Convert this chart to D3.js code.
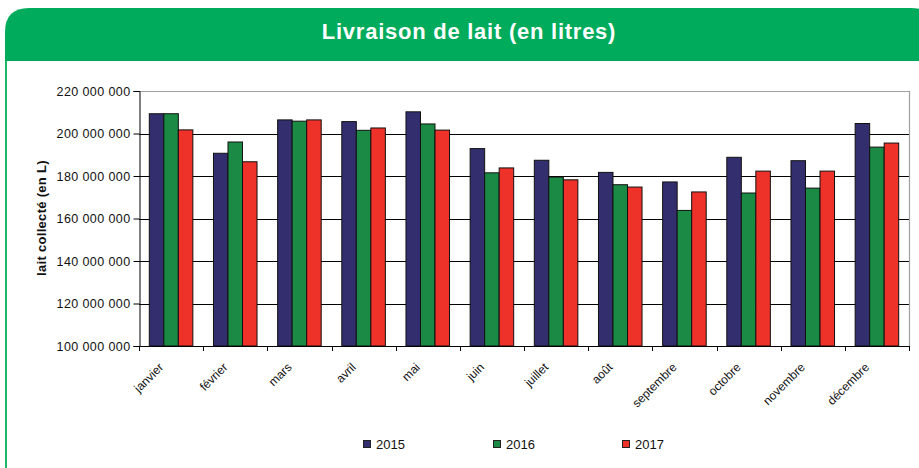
<!DOCTYPE html>
<html>
<head>
<meta charset="utf-8">
<script src="https://cdn.jsdelivr.net/npm/d3@7.9.0/dist/d3.min.js"></script>
<style>
  body { margin: 0; background: #fff; }
  svg { display: block; font-family: "Liberation Sans", Arial, sans-serif; }
</style>
</head>
<body>
<svg id="chart" width="919" height="468"></svg>
<script>
// Data
const months = ["janvier", "février", "mars", "avril", "mai", "juin",
  "juillet", "août", "septembre", "octobre", "novembre", "décembre"];
const years = ["2015", "2016", "2017"];
const values2015 = [209.3, 190.7, 206.4, 205.6, 210.2, 192.9, 187.4, 181.7, 177.2, 188.8, 187.2, 204.7];
const values2016 = [209.3, 196.0, 205.8, 201.5, 204.5, 181.5, 179.5, 175.9, 163.8, 172.0, 174.3, 193.6];
const values2017 = [201.7, 186.7, 206.4, 202.6, 201.6, 183.8, 178.2, 174.8, 172.5, 182.3, 182.3, 195.5];
const yTicks = [100e6, 120e6, 140e6, 160e6, 180e6, 200e6, 220e6];
const colors = ["#332f6f", "#1a8a45", "#ee3129"];

const series = [values2015, values2016, values2017];

const svg = d3.select("#chart");

// Header banner with rounded top corners
const bx = 5, by = 8, bw = 930, bh = 53, r = 24;
svg.append("path")
  .attr("d", `M${bx},${by + bh} L${bx},${by + r} Q${bx},${by} ${bx + r},${by} L${bx + bw - r},${by} Q${bx + bw},${by} ${bx + bw},${by + r} L${bx + bw},${by + bh} Z`)
  .attr("fill", "#00ab5b");
svg.append("text")
  .attr("x", 469).attr("y", 38.5)
  .attr("text-anchor", "middle")
  .attr("font-size", 22).attr("font-weight", "bold")
  .attr("letter-spacing", 0.75)
  .attr("fill", "#fff")
  .text("Livraison de lait (en litres)");

// green left border of the box
svg.append("line")
  .attr("x1", 6).attr("x2", 6).attr("y1", 61).attr("y2", 468)
  .attr("stroke", "#1db865").attr("stroke-width", 2);

const margin = { left: 139, right: 909, top: 91, bottom: 346 };

const x0 = d3.scaleBand().domain(months).range([margin.left, margin.right]);
const x1 = d3.scaleBand().domain(years).range([0, x0.bandwidth()])
  .paddingInner(0).paddingOuter(0.71);
const y = d3.scaleLinear().domain([100e6, 220e6]).range([margin.bottom, margin.top]);

const fr = d3.formatLocale({ decimal: ",", thousands: " ", grouping: [3], currency: ["", ""] });
const fmt = fr.format(",d");

// gridlines
svg.append("g")
  .selectAll("line")
  .data(yTicks.slice(1, -1))
  .join("line")
  .attr("x1", margin.left).attr("x2", margin.right)
  .attr("y1", d => Math.round(y(d)) + 0.5).attr("y2", d => Math.round(y(d)) + 0.5)
  .attr("stroke", "#000").attr("stroke-width", 1);

// plot frame top and right (grey)
svg.append("path")
  .attr("d", `M${margin.left},${margin.top + 0.5} H${margin.right + 0.5} V${margin.bottom}`)
  .attr("fill", "none").attr("stroke", "#a0a0a0").attr("stroke-width", 1.2);

// bars
const g = svg.append("g");
months.forEach((m, i) => {
  years.forEach((yr, j) => {
    const v = series[j][i] * 1e6;
    g.append("rect")
      .attr("x", x0(m) + x1(yr))
      .attr("y", y(v))
      .attr("width", x1.bandwidth())
      .attr("height", y(100e6) - y(v))
      .attr("fill", colors[j])
      .attr("stroke", "#111")
      .attr("stroke-width", 1);
  });
});

// y axis
const yAxis = d3.axisLeft(y).tickValues(yTicks).tickFormat(fmt).tickSize(6).tickPadding(3);
const ya = svg.append("g").attr("transform", `translate(${margin.left + 0.5},0)`).call(yAxis);
ya.select(".domain").attr("stroke", "#000");
ya.selectAll(".tick line").attr("stroke", "#000");
ya.selectAll("text").attr("font-size", 12.5).attr("fill", "#111")
  .attr("letter-spacing", 0.4)
  .attr("font-family", "Liberation Sans, Arial, sans-serif");

// x axis: ticks at category boundaries
const xa = svg.append("g");
xa.append("line")
  .attr("x1", margin.left).attr("x2", margin.right + 0.5)
  .attr("y1", margin.bottom + 0.5).attr("y2", margin.bottom + 0.5)
  .attr("stroke", "#000");
xa.selectAll(".tk")
  .data(months.concat(["end"]))
  .join("line")
  .attr("x1", (d, i) => Math.round(margin.left + i * x0.step()) + 0.5)
  .attr("x2", (d, i) => Math.round(margin.left + i * x0.step()) + 0.5)
  .attr("y1", margin.bottom).attr("y2", margin.bottom + 5)
  .attr("stroke", "#000");
xa.selectAll("text")
  .data(months)
  .join("text")
  .attr("transform", d => `translate(${x0(d) + x0.bandwidth() / 2 - 7},${margin.bottom + 22}) rotate(-45)`)
  .attr("text-anchor", "end")
  .attr("font-size", 12)
  .attr("fill", "#111")
  .text(d => d);

// y axis title
svg.append("text")
  .attr("transform", `translate(46,218) rotate(-90)`)
  .attr("text-anchor", "middle")
  .attr("font-size", 13).attr("font-weight", "bold")
  .attr("letter-spacing", 0.3)
  .attr("fill", "#111")
  .text("lait collecté (en L)");

// legend
const legendX = [363, 493, 622];
const lg = svg.append("g");
years.forEach((yr, j) => {
  lg.append("rect")
    .attr("x", legendX[j] + 0.5).attr("y", 440.5)
    .attr("width", 7).attr("height", 7)
    .attr("fill", colors[j]).attr("stroke", "#222");
  lg.append("text")
    .attr("x", legendX[j] + 13).attr("y", 449)
    .attr("font-size", 13).attr("fill", "#111")
    .text(yr);
});
</script>
</body>
</html>
